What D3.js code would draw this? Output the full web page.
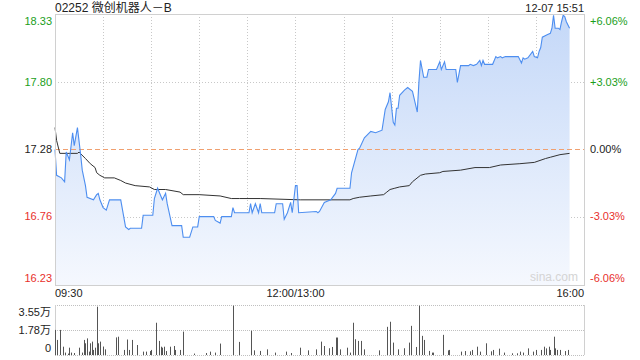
<!DOCTYPE html>
<html>
<head>
<meta charset="utf-8">
<script src="https://cdn.jsdelivr.net/npm/d3@7/dist/d3.min.js"></script>
<style>
  body { margin: 0; background: #fff; }
  text { font-family: "Liberation Sans", Arial, "Noto Sans CJK SC", sans-serif; }
</style>
</head>
<body>
<div id="chart"></div>
<script>
// stock info
var title = "02252 微创机器人－B";
var stamp = "12-07 15:51";
var prevClose = 17.28;

// axis ticks
var priceTicks = [18.33, 17.80, 17.28, 16.76, 16.23];
var pctTicks = ["+6.06%", "+3.03%", "0.00%", "-3.03%", "-6.06%"];
var timeTicks = [0, 150, 330];
var timeLabels = ["09:30", "12:00/13:00", "16:00"];
var volTicks = [3.55, 1.78, 0];
var volLabels = ["3.55万", "1.78万", "0"];

// price line (minute from open, price)
var priceMin = [0, 1, 4, 6, 7, 9, 11, 12, 14, 16, 17, 19, 20, 24, 26, 27, 28, 30, 32, 34, 41, 44, 46, 47, 54, 55, 61, 62, 64, 66, 67, 69, 70, 73, 79,
  80, 84, 86, 89, 90, 99, 100, 103, 104, 110, 111, 112, 121, 122, 123, 125, 127, 128, 129, 137, 138, 142, 143, 145, 147, 148, 150, 151, 152,
  163, 164, 165, 168, 172, 175, 176, 184, 185, 189, 190, 193, 197, 200, 204, 206, 208, 209, 211, 212, 213, 214, 215, 218, 220, 223, 226, 227,
  228, 230, 232, 233, 238, 240, 241, 243, 244, 250, 251, 253, 258, 259, 261, 263, 265, 266, 267, 268, 273, 274, 275, 276, 278, 279, 281, 289,
  291, 292, 293, 295, 298, 299, 301, 302, 303, 304, 307, 309, 310, 311, 312, 314, 315, 316, 317, 318, 319, 321];
var priceVal = [17.28, 17.08, 17.06, 17.03, 17.26, 17.20, 17.41, 17.31, 17.45, 17.24, 17.12, 17.00, 16.91, 16.89, 16.93, 16.94, 16.89, 16.83, 16.81, 16.89, 16.89, 16.68, 16.66, 16.67, 16.67, 16.77, 16.77, 16.90, 16.98, 16.92, 16.89, 16.94, 16.86, 16.69, 16.69,
  16.60, 16.60, 16.68, 16.68, 16.76, 16.76, 16.73, 16.71, 16.76, 16.76, 16.83, 16.79, 16.79, 16.86, 16.79, 16.86, 16.79, 16.86, 16.79, 16.79, 16.86, 16.86, 16.74, 16.79, 16.87, 16.79, 17.00, 17.00, 16.79,
  16.80, 16.79, 16.80, 16.87, 16.89, 16.94, 16.98, 16.98, 17.10, 17.28, 17.29, 17.37, 17.42, 17.41, 17.43, 17.59, 17.65, 17.72, 17.49, 17.47, 17.60, 17.60, 17.70, 17.74, 17.76, 17.73, 17.57, 17.80,
  17.97, 17.84, 17.84, 17.90, 17.90, 17.96, 17.90, 17.96, 17.90, 17.90, 17.80, 17.93, 17.93, 17.94, 17.93, 17.94, 17.97, 17.93, 17.97, 17.94, 17.94, 17.97, 18.00, 17.99, 18.00, 17.99, 18.00, 18.00,
  17.95, 17.99, 17.98, 17.99, 18.04, 18.00, 17.99, 18.04, 18.07, 18.15, 18.17, 18.18, 18.22, 18.32, 18.22, 18.22, 18.21, 18.27, 18.32, 18.31, 18.27, 18.22];

// average price line
var avgMin = [0, 1, 3, 14, 15, 19, 22, 25, 26, 28, 31, 37, 41, 44, 50, 59, 62, 69, 78, 80, 90, 103, 110, 115, 128, 153, 184, 186, 190, 197, 205, 207,
  209, 212, 215, 221, 223, 228, 231, 240, 242, 253, 262, 271, 278, 290, 299, 306, 309, 315, 321];
var avgVal = [17.45, 17.35, 17.25, 17.25, 17.26, 17.21, 17.17, 17.14, 17.10, 17.08, 17.06, 17.06, 17.04, 17.02, 17.00, 16.99, 16.97, 16.97, 16.95, 16.93, 16.93, 16.92, 16.90, 16.90, 16.90, 16.89, 16.89, 16.90, 16.91, 16.92, 16.93, 16.95,
  16.97, 16.98, 16.99, 17.00, 17.03, 17.08, 17.09, 17.10, 17.11, 17.12, 17.14, 17.14, 17.16, 17.17, 17.18, 17.21, 17.22, 17.24, 17.25];

// volume, 万 shares
var volMin = [0, 1, 3, 5, 6, 8, 9, 10, 12, 15, 17, 18, 19, 20, 21, 22, 23, 24, 25, 26, 27, 28, 30, 31, 38, 39, 43, 45, 46, 48, 51, 55, 57, 59, 60,
  63, 65, 66, 67, 68, 69, 72, 74, 75, 78, 80, 87, 94, 97, 100, 103, 111, 115, 122, 124, 128, 132, 137, 144, 147, 153, 158, 163, 166, 168,
  171, 173, 175, 176, 178, 182, 184, 186, 187, 189, 191, 193, 202, 207, 209, 211, 214, 218, 221, 222, 225, 227, 229, 230, 233, 235, 236,
  242, 245, 246, 253, 256, 259, 260, 263, 265, 269, 272, 273, 277, 280, 285, 288, 290, 292, 295, 298, 300, 303, 305, 306, 308, 309, 311,
  312, 313, 315, 318, 320];
var volVal = [1.78, 1.07, 1.78, 0.59, 0.17, 0.10, 0.52, 0.17, 0.14, 0.52, 0.17, 1.07, 0.83, 1.18, 0.24, 0.83, 0.95, 0.36, 0.52, 3.43, 0.83, 0.95, 0.60, 0.40, 1.25, 1.30, 0.36, 1.10, 0.36, 1.07, 0.71, 0.24, 0.24, 0.28, 0.36,
  2.29, 1.00, 0.59, 0.52, 0.59, 0.28, 0.59, 0.64, 0.36, 0.36, 1.66, 0.10, 0.14, 0.24, 0.17, 0.81, 3.50, 0.93, 1.72, 0.33, 0.29, 0.40, 0.17, 0.24, 0.14, 0.52, 0.33, 0.40, 0.95, 0.64,
  0.48, 0.57, 1.24, 1.24, 0.40, 0.52, 0.17, 2.29, 1.12, 1.00, 1.00, 0.40, 0.33, 2.00, 2.36, 0.88, 0.40, 0.48, 0.88, 2.07, 0.57, 3.50, 1.36, 1.07, 0.29, 0.17, 0.17,
  1.43, 0.33, 0.36, 0.24, 0.28, 0.26, 0.36, 0.59, 0.24, 0.83, 0.26, 0.36, 0.45, 0.17, 0.12, 0.12, 0.24, 0.17, 0.47, 0.24, 0.36, 0.36, 0.59, 0.47, 0.59, 0.36, 1.30,
  0.47, 0.36, 0.36, 0.28, 0.36];

var width = 640;
var height = 360;
var pLeft = 55, pRight = 584, pTop = 14, pBottom = 285;
var vTop = 305, vBottom = 355;

var green = "#1a9e1a", red = "#e8302c";

var svg = d3.select("#chart")
  .append("svg")
  .attr("width", width)
  .attr("height", height);

var x = d3.scaleLinear().domain([0, 330]).range([pLeft, pRight]);
var y = d3.scaleLinear().domain([16.23, 18.33]).range([pBottom, pTop]);
var vy = d3.scaleLinear().domain([0, 3.55]).range([vBottom, vTop]);

var prices = priceMin.map(function(m, i) { return { m: m, p: priceVal[i] }; });
var avgs = avgMin.map(function(m, i) { return { m: m, p: avgVal[i] }; });
var vols = volMin.map(function(m, i) { return { m: m, v: volVal[i] }; });

// gradient for area
var grad = svg.append("defs").append("linearGradient")
  .attr("id", "fill")
  .attr("gradientUnits", "userSpaceOnUse")
  .attr("x1", 0).attr("x2", 0)
  .attr("y1", pTop).attr("y2", pBottom);
grad.append("stop").attr("offset", "0%").attr("stop-color", "#c4d8f8");
grad.append("stop").attr("offset", "100%").attr("stop-color", "#f5f8fe");

// grid
var gridTimes = d3.range(30, 330, 30);
svg.append("g").selectAll("line")
  .data(gridTimes)
  .join("line")
  .attr("x1", function(d) { return Math.round(x(d)) + 0.5; })
  .attr("x2", function(d) { return Math.round(x(d)) + 0.5; })
  .attr("y1", pTop).attr("y2", pBottom)
  .attr("stroke", "#c8c8c8")
  .attr("stroke-dasharray", "1,2");

svg.append("g").selectAll("line")
  .data([17.80, 16.76])
  .join("line")
  .attr("x1", pLeft).attr("x2", pRight)
  .attr("y1", function(d) { return Math.round(y(d)) + 0.5; })
  .attr("y2", function(d) { return Math.round(y(d)) + 0.5; })
  .attr("stroke", "#c8c8c8")
  .attr("stroke-dasharray", "1,2");

// area + lines
svg.append("path")
  .datum(prices)
  .attr("d", d3.area()
    .x(function(d) { return x(d.m); })
    .y0(pBottom)
    .y1(function(d) { return y(d.p); }))
  .attr("fill", "url(#fill)");

svg.append("line")
  .attr("x1", pLeft).attr("x2", pRight)
  .attr("y1", Math.round(y(prevClose)) + 0.5)
  .attr("y2", Math.round(y(prevClose)) + 0.5)
  .attr("stroke", "#f0a070")
  .attr("stroke-dasharray", "5,3");

svg.append("path")
  .datum(avgs)
  .attr("d", d3.line()
    .x(function(d) { return x(d.m); })
    .y(function(d) { return y(d.p); }))
  .attr("fill", "none")
  .attr("stroke", "#333")
  .attr("stroke-width", 1);

svg.append("path")
  .datum(prices)
  .attr("d", d3.line()
    .x(function(d) { return x(d.m); })
    .y(function(d) { return y(d.p); }))
  .attr("fill", "none")
  .attr("stroke", "#4d8ef0")
  .attr("stroke-width", 1.1);

// frame
svg.append("rect")
  .attr("x", pLeft + 0.5).attr("y", pTop + 0.5)
  .attr("width", pRight - pLeft).attr("height", pBottom - pTop)
  .attr("fill", "none")
  .attr("stroke", "#d0d0d0");

svg.append("text")
  .attr("x", pRight - 6).attr("y", pBottom - 4)
  .attr("text-anchor", "end")
  .attr("font-size", 12)
  .attr("fill", "#d4d4d4")
  .text("sina.com");

// price labels
function tickColor(v) {
  if (Math.abs(v - prevClose) < 0.005) return "#222";
  return v > prevClose ? green : red;
}
svg.append("g").selectAll("text")
  .data(priceTicks)
  .join("text")
  .attr("x", pLeft - 3)
  .attr("y", function(d) { return Math.min(Math.max(y(d), pTop + 7), pBottom - 7); })
  .attr("dy", "0.35em")
  .attr("text-anchor", "end")
  .attr("font-size", 11)
  .attr("fill", tickColor)
  .text(function(d) { return d.toFixed(2); });

svg.append("g").selectAll("text")
  .data(priceTicks)
  .join("text")
  .attr("x", pRight + 6)
  .attr("y", function(d) { return Math.min(Math.max(y(d), pTop + 7), pBottom - 7); })
  .attr("dy", "0.35em")
  .attr("font-size", 11)
  .attr("fill", tickColor)
  .text(function(d, i) { return pctTicks[i]; });

// time labels
svg.append("g").selectAll("text")
  .data(timeTicks)
  .join("text")
  .attr("x", function(d) { return x(d); })
  .attr("y", 297)
  .attr("text-anchor", function(d, i) { return i == 0 ? "start" : (i == 1 ? "middle" : "end"); })
  .attr("font-size", 11)
  .attr("fill", "#222")
  .text(function(d, i) { return timeLabels[i]; });

// title
svg.append("text")
  .attr("x", pLeft).attr("y", 12)
  .attr("font-size", 12)
  .attr("fill", "#222")
  .style("font-family", "'Liberation Sans', 'Noto Sans CJK SC', sans-serif")
  .text(title);

svg.append("text")
  .attr("x", pRight).attr("y", 12)
  .attr("text-anchor", "end")
  .attr("font-size", 11)
  .attr("fill", "#222")
  .text(stamp);

// volume panel
svg.append("g").selectAll("line")
  .data([3.55, 1.78, 0])
  .join("line")
  .attr("x1", pLeft).attr("x2", pRight)
  .attr("y1", function(d) { return Math.round(vy(d)) + 0.5; })
  .attr("y2", function(d) { return Math.round(vy(d)) + 0.5; })
  .attr("stroke", "#c0c0c0")
  .attr("stroke-dasharray", "1,1");

svg.append("line")
  .attr("x1", pLeft + 0.5).attr("x2", pLeft + 0.5)
  .attr("y1", vTop).attr("y2", vBottom)
  .attr("stroke", "#d0d0d0");
svg.append("line")
  .attr("x1", pRight + 0.5).attr("x2", pRight + 0.5)
  .attr("y1", vTop).attr("y2", vBottom)
  .attr("stroke", "#d0d0d0");

svg.append("g").selectAll("line")
  .data(vols)
  .join("line")
  .attr("x1", function(d) { return Math.round(x(d.m)) + 0.5; })
  .attr("x2", function(d) { return Math.round(x(d.m)) + 0.5; })
  .attr("y1", vBottom)
  .attr("y2", function(d) { return vy(d.v); })
  .attr("stroke", "#555")
  .attr("stroke-width", 1);

svg.append("g").selectAll("text")
  .data(volTicks)
  .join("text")
  .attr("x", pLeft - 4)
  .attr("y", function(d) { return Math.min(Math.max(vy(d), vTop + 7), vBottom - 7); })
  .attr("dy", "0.35em")
  .attr("text-anchor", "end")
  .attr("font-size", 11)
  .attr("fill", "#222")
  .text(function(d, i) { return volLabels[i]; });
</script>
</body>
</html>
